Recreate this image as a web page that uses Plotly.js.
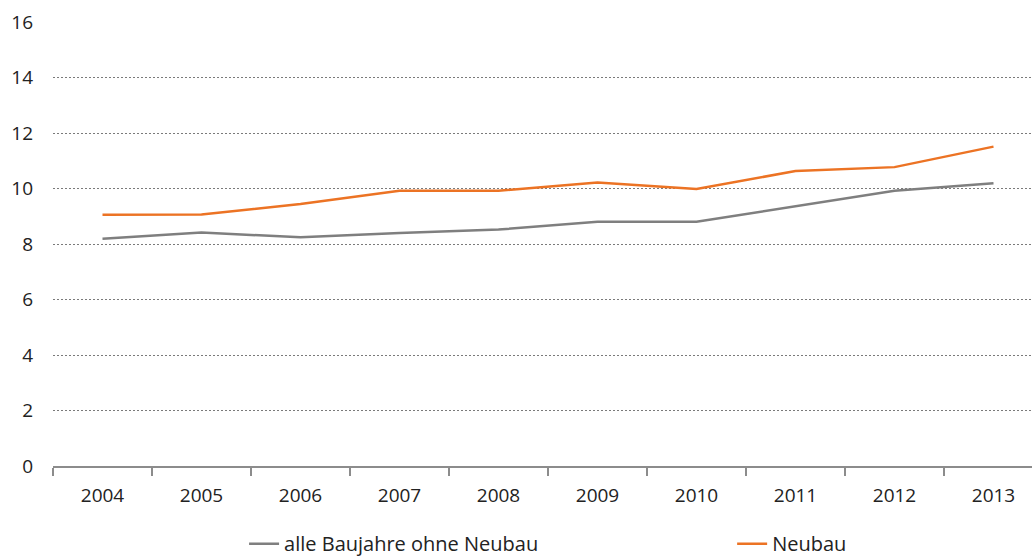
<!DOCTYPE html>
<html>
<head>
<meta charset="utf-8">
<script src="https://cdn.plot.ly/plotly-3.0.1.min.js"></script>
<style>
  html, body { margin: 0; padding: 0; overflow: hidden; background: #fff; }
  #chart { width: 1043px; height: 559px; }
</style>
</head>
<body>
<div id="chart"></div>
<script>
// Jahre
const years = ['2004', '2005', '2006', '2007', '2008', '2009', '2010', '2011', '2012', '2013'];

// Werte je Jahr
const bestand = [8.19, 8.41, 8.24, 8.40, 8.52, 8.80, 8.80, 9.37, 9.92, 10.19];
const neubau  = [9.05, 9.06, 9.44, 9.92, 9.92, 10.22, 9.98, 10.63, 10.77, 11.51];

const seriesNames = ['alle Baujahre ohne Neubau', 'Neubau'];
const yTicks = [0, 2, 4, 6, 8, 10, 12, 14, 16];

const font = { family: 'Open Sans, Noto Sans, sans-serif', size: 19, color: '#222222' };
const legendFont = Object.assign({}, font, { size: 20 });

const traces = [
  {
    x: years, y: bestand, name: seriesNames[0], type: 'scatter', mode: 'lines',
    line: { color: '#7f7f7f', width: 2.5 }, legend: 'legend'
  },
  {
    x: years, y: neubau, name: seriesNames[1], type: 'scatter', mode: 'lines',
    line: { color: '#ec7324', width: 2.5 }, legend: 'legend2'
  }
];

// one legend box per series, placed side by side under the axis
const legendBase = {
  orientation: 'h',
  yanchor: 'top',
  y: -0.131,
  xanchor: 'left',
  font: legendFont,
  bgcolor: 'rgba(0,0,0,0)'
};

const layout = {
  width: 1043,
  height: 559,
  margin: { l: 53, r: 0, t: 22, b: 93, autoexpand: false },
  paper_bgcolor: '#ffffff',
  plot_bgcolor: '#ffffff',
  font: font,
  showlegend: true,
  legend: Object.assign({}, legendBase, { x: 0.193 }),
  legend2: Object.assign({}, legendBase, { x: 0.686 }),
  xaxis: {
    type: 'category',
    range: [-0.5, 9.5],
    showgrid: false,
    showline: true,
    linecolor: '#8c8c8c',
    linewidth: 1.5,
    ticks: 'outside',
    tickson: 'boundaries',
    ticklen: 8,
    tickcolor: '#8c8c8c',
    tickwidth: 1.5,
    ticklabelstandoff: 12,
    tickfont: font,
    fixedrange: true
  },
  yaxis: {
    range: [0, 16],
    tickvals: yTicks,
    ticktext: yTicks.map(String),
    showgrid: true,
    gridcolor: '#7a7a7a',
    gridwidth: 1,
    griddash: '2px,2px',
    zeroline: false,
    showline: false,
    ticks: '',
    ticklabelstandoff: 19,
    tickfont: font,
    fixedrange: true
  }
};

Plotly.newPlot('chart', traces, layout, { displayModeBar: false, staticPlot: true });
</script>
</body>
</html>
